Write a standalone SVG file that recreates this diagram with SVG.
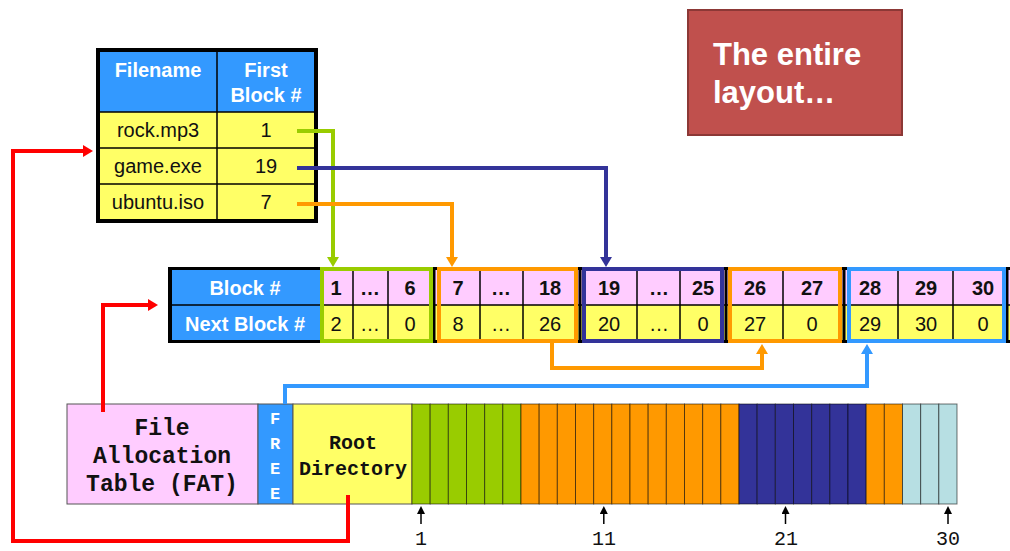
<svg xmlns="http://www.w3.org/2000/svg" width="1010" height="551" viewBox="0 0 1010 551">
<style>
.sans{font-family:"Liberation Sans",Arial,sans-serif}
.mono{font-family:"Liberation Mono","Courier New",monospace}
.hd{font-size:20px;font-weight:bold;fill:#fff;text-anchor:middle}
.cell{font-size:20px;fill:#111;text-anchor:middle}
.bold{font-weight:bold}
.grid{stroke:#000;stroke-width:1.5}
.conn{fill:none;stroke-width:4;stroke-linejoin:miter}
.blk{stroke:#000;stroke-opacity:.55;stroke-width:1}
.g{fill:#99cc00}.o{fill:#ff9900}.d{fill:#333399}.l{fill:#b7dfe3}
.tick{stroke:#000;stroke-width:1.5}
</style>
<defs>
<marker id="aG" viewBox="0 0 10 12" refX="0" refY="6" markerWidth="10" markerHeight="12" markerUnits="userSpaceOnUse" orient="auto"><path d="M0,0 L10,6 L0,12 z" fill="#99cc00"/></marker>
<marker id="aO" viewBox="0 0 10 12" refX="0" refY="6" markerWidth="10" markerHeight="12" markerUnits="userSpaceOnUse" orient="auto"><path d="M0,0 L10,6 L0,12 z" fill="#ff9900"/></marker>
<marker id="aD" viewBox="0 0 10 12" refX="0" refY="6" markerWidth="10" markerHeight="12" markerUnits="userSpaceOnUse" orient="auto"><path d="M0,0 L10,6 L0,12 z" fill="#333399"/></marker>
<marker id="aL" viewBox="0 0 10 12" refX="0" refY="6" markerWidth="10" markerHeight="12" markerUnits="userSpaceOnUse" orient="auto"><path d="M0,0 L10,6 L0,12 z" fill="#3399ff"/></marker>
<marker id="aR" viewBox="0 0 10 12" refX="0" refY="6" markerWidth="10" markerHeight="12" markerUnits="userSpaceOnUse" orient="auto"><path d="M0,0 L10,6 L0,12 z" fill="#ff0000"/></marker>
<marker id="aK" viewBox="0 0 8 8" refX="0" refY="4" markerWidth="8" markerHeight="8" markerUnits="userSpaceOnUse" orient="auto"><path d="M0,0 L8,4 L0,8 z" fill="#000"/></marker>
</defs>
<rect width="1010" height="551" fill="#fff"/>

<!-- Directory table -->
<g id="directory">
<rect x="98" y="50" width="218" height="62" fill="#3399ff"/>
<rect x="98" y="112" width="218" height="109" fill="#ffff66"/>
<line class="grid" x1="217" y1="50" x2="217" y2="221"/>
<line class="grid" x1="98" y1="112" x2="316" y2="112"/>
<line class="grid" x1="98" y1="148" x2="316" y2="148"/>
<line class="grid" x1="98" y1="184" x2="316" y2="184"/>
<rect x="98" y="50" width="218" height="171" fill="none" stroke="#000" stroke-width="4"/>
<text class="sans hd" x="158" y="77">Filename</text>
<text class="sans hd" x="266" y="77">First</text>
<text class="sans hd" x="266" y="102">Block #</text>
<text class="sans cell" x="158" y="137">rock.mp3</text>
<text class="sans cell" x="266" y="137">1</text>
<text class="sans cell" x="158" y="173">game.exe</text>
<text class="sans cell" x="266" y="173">19</text>
<text class="sans cell" x="158" y="209">ubuntu.iso</text>
<text class="sans cell" x="266" y="209">7</text>
</g>

<!-- Block table (FAT contents) -->
<g id="fat-table">
<rect x="168" y="267" width="850" height="76" fill="#000"/>
<rect x="172" y="270" width="148" height="70" fill="#3399ff"/>
<rect x="320" y="270" width="700" height="35" fill="#ffccff"/>
<rect x="320" y="305" width="700" height="35" fill="#ffff66"/>
<line class="grid" x1="172" y1="305" x2="1010" y2="305"/>
<g class="grid">
<line x1="353" y1="270" x2="353" y2="340"/><line x1="388" y1="270" x2="388" y2="340"/>
<line x1="480" y1="270" x2="480" y2="340"/><line x1="523" y1="270" x2="523" y2="340"/>
<line x1="637" y1="270" x2="637" y2="340"/><line x1="680" y1="270" x2="680" y2="340"/>
<line x1="783" y1="270" x2="783" y2="340"/><line x1="898" y1="270" x2="898" y2="340"/>
<line x1="953" y1="270" x2="953" y2="340"/>
</g>
<line x1="434" y1="267" x2="434" y2="343" stroke="#000" stroke-width="3"/>
<line x1="580" y1="267" x2="580" y2="343" stroke="#000" stroke-width="3"/>
<line x1="726" y1="267" x2="726" y2="343" stroke="#000" stroke-width="3"/>
<line x1="844" y1="267" x2="844" y2="343" stroke="#000" stroke-width="3"/>
<line x1="1007" y1="267" x2="1007" y2="343" stroke="#000" stroke-width="3"/>
<rect x="322" y="269" width="109" height="72" fill="none" stroke="#99cc00" stroke-width="4"/>
<rect x="439" y="269" width="137" height="72" fill="none" stroke="#ff9900" stroke-width="4"/>
<rect x="584" y="269" width="138" height="72" fill="none" stroke="#333399" stroke-width="4"/>
<rect x="730" y="269" width="110" height="72" fill="none" stroke="#ff9900" stroke-width="4"/>
<rect x="849" y="269" width="155" height="72" fill="none" stroke="#3399ff" stroke-width="4"/>
<text class="sans hd" x="245" y="295" style="font-size:20px">Block #</text>
<text class="sans hd" x="245" y="331" style="font-size:20px">Next Block #</text>
<g class="sans cell bold">
<text x="336" y="295">1</text><text x="370" y="295">…</text><text x="410" y="295">6</text>
<text x="458" y="295">7</text><text x="501" y="295">…</text><text x="550" y="295">18</text>
<text x="609" y="295">19</text><text x="659" y="295">…</text><text x="703" y="295">25</text>
<text x="755" y="295">26</text><text x="812" y="295">27</text>
<text x="870" y="295">28</text><text x="926" y="295">29</text><text x="983" y="295">30</text>
</g>
<g class="sans cell">
<text x="336" y="331">2</text><text x="370" y="331">…</text><text x="410" y="331">0</text>
<text x="458" y="331">8</text><text x="501" y="331">…</text><text x="550" y="331">26</text>
<text x="609" y="331">20</text><text x="659" y="331">…</text><text x="703" y="331">0</text>
<text x="755" y="331">27</text><text x="812" y="331">0</text>
<text x="870" y="331">29</text><text x="926" y="331">30</text><text x="983" y="331">0</text>
</g>
</g>

<!-- Disk layout strip -->
<g id="fat-region">
<rect x="67" y="404" width="191" height="100" fill="#ffccff" stroke="#555" stroke-width="1"/>
<g class="mono bold" style="font-size:23px;fill:#111;text-anchor:middle">
<text x="162" y="435">File</text>
<text x="162" y="463">Allocation</text>
<text x="162" y="491">Table (FAT)</text>
</g>
</g>
<g id="free-region">
<rect x="258" y="404" width="35" height="100" fill="#3399ff" stroke="#555" stroke-width="1"/>
<g class="mono bold" style="font-size:17px;fill:#fff;text-anchor:middle">
<text x="275" y="424">F</text><text x="275" y="449">R</text><text x="275" y="474">E</text><text x="275" y="499">E</text>
</g>
</g>
<g id="root-directory">
<rect x="293" y="404" width="119" height="100" fill="#ffff66" stroke="#555" stroke-width="1"/>
<g class="mono" style="font-size:20px;fill:#111;text-anchor:middle;font-weight:bold">
<text x="353" y="449">Root</text>
<text x="353" y="475">Directory</text>
</g>
</g>
<g id="data-blocks">
<rect class="blk g" x="412" y="404" width="18.17" height="100"/>
<rect class="blk g" x="430.17" y="404" width="18.17" height="100"/>
<rect class="blk g" x="448.33" y="404" width="18.17" height="100"/>
<rect class="blk g" x="466.5" y="404" width="18.17" height="100"/>
<rect class="blk g" x="484.67" y="404" width="18.17" height="100"/>
<rect class="blk g" x="502.83" y="404" width="18.17" height="100"/>
<rect class="blk o" x="521" y="404" width="18.17" height="100"/>
<rect class="blk o" x="539.17" y="404" width="18.17" height="100"/>
<rect class="blk o" x="557.33" y="404" width="18.17" height="100"/>
<rect class="blk o" x="575.5" y="404" width="18.17" height="100"/>
<rect class="blk o" x="593.67" y="404" width="18.17" height="100"/>
<rect class="blk o" x="611.83" y="404" width="18.17" height="100"/>
<rect class="blk o" x="630" y="404" width="18.17" height="100"/>
<rect class="blk o" x="648.17" y="404" width="18.17" height="100"/>
<rect class="blk o" x="666.33" y="404" width="18.17" height="100"/>
<rect class="blk o" x="684.5" y="404" width="18.17" height="100"/>
<rect class="blk o" x="702.67" y="404" width="18.17" height="100"/>
<rect class="blk o" x="720.83" y="404" width="18.17" height="100"/>
<rect class="blk d" x="739" y="404" width="18.17" height="100"/>
<rect class="blk d" x="757.17" y="404" width="18.17" height="100"/>
<rect class="blk d" x="775.33" y="404" width="18.17" height="100"/>
<rect class="blk d" x="793.5" y="404" width="18.17" height="100"/>
<rect class="blk d" x="811.67" y="404" width="18.17" height="100"/>
<rect class="blk d" x="829.83" y="404" width="18.17" height="100"/>
<rect class="blk d" x="848" y="404" width="18.17" height="100"/>
<rect class="blk o" x="866.17" y="404" width="18.17" height="100"/>
<rect class="blk o" x="884.33" y="404" width="18.17" height="100"/>
<rect class="blk l" x="902.5" y="404" width="18.17" height="100"/>
<rect class="blk l" x="920.67" y="404" width="18.17" height="100"/>
<rect class="blk l" x="938.83" y="404" width="18.17" height="100"/>
</g>
<g id="block-index">
<line class="tick" x1="421" y1="524" x2="421" y2="514" marker-end="url(#aK)"/>
<line class="tick" x1="603.8" y1="524" x2="603.8" y2="514" marker-end="url(#aK)"/>
<line class="tick" x1="785.5" y1="524" x2="785.5" y2="514" marker-end="url(#aK)"/>
<line class="tick" x1="948" y1="524" x2="948" y2="514" marker-end="url(#aK)"/>
<g class="mono" style="font-size:20px;fill:#111;text-anchor:middle">
<text x="421" y="545">1</text><text x="604" y="545">11</text><text x="786" y="545">21</text><text x="948" y="545">30</text>
</g>
</g>

<!-- Callout -->
<g id="callout">
<rect x="688" y="10" width="214" height="125" fill="#c0504d" stroke="#8c3836" stroke-width="2"/>
<g class="sans" style="font-size:31px;font-weight:bold;fill:#fff">
<text x="713" y="65">The entire</text>
<text x="713" y="103">layout…</text>
</g>
</g>

<!-- Connectors -->
<g id="connectors">
<path class="conn" stroke="#99cc00" d="M297,131 H333 V257" marker-end="url(#aG)"/>
<path class="conn" stroke="#333399" d="M297,168 H606 V257" marker-end="url(#aD)"/>
<path class="conn" stroke="#ff9900" d="M297,204 H452 V257" marker-end="url(#aO)"/>
<path class="conn" stroke="#ff9900" d="M552,342 V368 H762 V354" marker-end="url(#aO)"/>
<path class="conn" stroke="#3399ff" d="M285,404 V386 H867 V354" marker-end="url(#aL)"/>
<path class="conn" stroke="#ff0000" d="M103,412 V305 H148" marker-end="url(#aR)"/>
<path class="conn" stroke="#ff0000" d="M348,495 V541 H13 V151 H83" marker-end="url(#aR)"/>
</g>
</svg>
